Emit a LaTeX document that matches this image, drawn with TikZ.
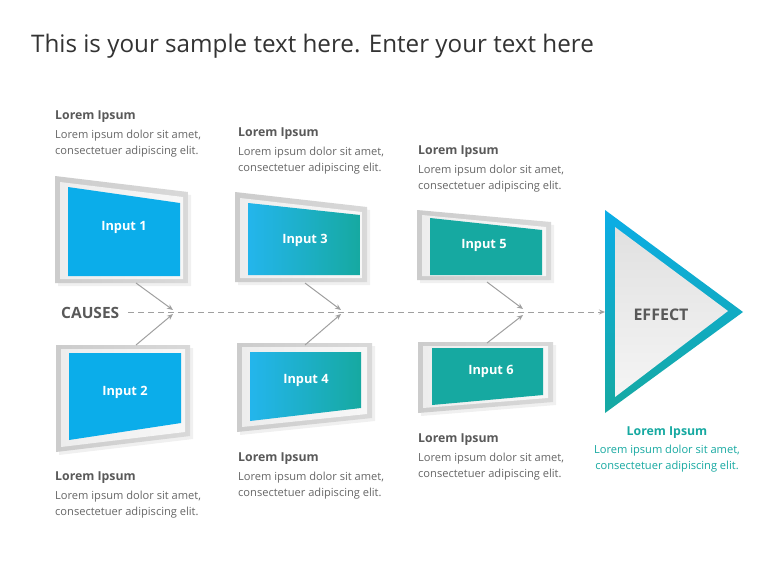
\documentclass[tikz,border=0pt]{standalone}
\usepackage{fontspec}
\setmainfont{Open Sans}
\usetikzlibrary{arrows.meta}
\definecolor{cyanA}{HTML}{0BADEA}
\definecolor{tealA}{HTML}{16A9A1}
\definecolor{txtgray}{HTML}{666666}
\definecolor{headgray}{HTML}{595959}
\definecolor{linegray}{HTML}{A0A0A0}
\tikzset{
  framebox/.style={left color=black!20, right color=black!15, draw=none},
  bevelbox/.style={left color=black!7, right color=black!3, draw=none},
  shadowbox/.style={fill=black, opacity=0.06, draw=none},
  innerc/.style={fill=cyanA, draw=none},
  innerm/.style={left color=cyanA!90!white, right color=tealA, draw=none},
  innert/.style={fill=tealA, draw=none},
  inlabel/.style={text=white, font=\bfseries\fontsize{12.8}{14}\selectfont},
  head/.style={anchor=west, text=headgray, font=\bfseries\fontsize{12.3}{14}\selectfont, inner sep=0pt},
  body/.style={anchor=north west, text=txtgray, font=\fontsize{11.1}{16}\selectfont, align=left, inner sep=0pt},
  feeder/.style={draw=linegray, line width=1pt, -{Stealth[length=6pt,width=5pt]}},
}
\begin{document}
\begin{tikzpicture}[x=1pt,y=-1pt]
\useasboundingbox (0,0) rectangle (768,576);
\fill[white] (0,0) rectangle (768,576);

% title
\node[anchor=west, text=black!80, font=\fontsize{24.2}{28}\selectfont, inner sep=0pt] (title) at (31,46) {This is your sample text here. Enter your text here};

% frame shadows
\begin{scope}[shift={(3,3)}]
\path[shadowbox] (55,176) -- (188,192) -- (188,283) -- (55,283) -- cycle;
\path[shadowbox] (56,345) -- (190,345) -- (190,436) -- (56,452) -- cycle;
\path[shadowbox] (235,192) -- (367,207) -- (367,282) -- (235,282) -- cycle;
\path[shadowbox] (237,343) -- (372,343) -- (372,418) -- (237,432) -- cycle;
\path[shadowbox] (417,210) -- (551,222) -- (551,280) -- (417,280) -- cycle;
\path[shadowbox] (418,342) -- (553,342) -- (553,402) -- (418,413) -- cycle;
\end{scope}

% frames
\shade[framebox] (55,176) -- (188,192) -- (188,283) -- (55,283) -- cycle;
\shade[framebox] (56,345) -- (190,345) -- (190,436) -- (56,452) -- cycle;
\shade[framebox] (235,192) -- (367,207) -- (367,282) -- (235,282) -- cycle;
\shade[framebox] (237,343) -- (372,343) -- (372,418) -- (237,432) -- cycle;
\shade[framebox] (417,210) -- (551,222) -- (551,280) -- (417,280) -- cycle;
\shade[framebox] (418,342) -- (553,342) -- (553,402) -- (418,413) -- cycle;

% bevels
\shade[bevelbox] (60,182) -- (183,197) -- (183,279) -- (60,279) -- cycle;
\shade[bevelbox] (61,349) -- (185,349) -- (185,432) -- (61,447) -- cycle;
\shade[bevelbox] (240,198) -- (362,212) -- (362,278) -- (240,278) -- cycle;
\shade[bevelbox] (242,347) -- (367,347) -- (367,414) -- (242,427) -- cycle;
\shade[bevelbox] (422,215) -- (546,227) -- (546,276) -- (422,276) -- cycle;
\shade[bevelbox] (423,346) -- (548,346) -- (548,398) -- (423,408) -- cycle;

% inner panels
\path[innerc] (68,187) -- (180,203) -- (180,276) -- (68,276) -- cycle;
\path[innerc] (69,353) -- (181,353) -- (181,423) -- (69,440) -- cycle;
\shade[innerm] (248,203) -- (360,215) -- (360,275) -- (248,275) -- cycle;
\shade[innerm] (250,352) -- (361,352) -- (361,408) -- (250,421) -- cycle;
\path[innert] (430,218) -- (542,230) -- (542,275) -- (430,275) -- cycle;
\path[innert] (432,348) -- (543,348) -- (543,395) -- (432,405) -- cycle;

\node[inlabel] (in1) at (124,227) {Input 1};
\node[inlabel] (in2) at (125,392) {Input 2};
\node[inlabel] (in3) at (305,240) {Input 3};
\node[inlabel] (in4) at (306,380) {Input 4};
\node[inlabel] (in5) at (484,245) {Input 5};
\node[inlabel] (in6) at (491,371) {Input 6};

% effect triangle
\shade[top color=cyanA!95!tealA, bottom color=tealA] (605,210) -- (743,312) -- (605,413) -- cycle;
\shade[top color=black!12, bottom color=black!4] (615,227) -- (728,311) -- (615,397) -- cycle;
\node[text=headgray, font=\bfseries\fontsize{16}{18}\selectfont] (effect) at (661,315) {EFFECT};

% spine
\node[text=headgray, font=\bfseries\fontsize{15.5}{18}\selectfont, anchor=west, inner sep=0pt] (causes) at (61,313) {CAUSES};
\coordinate (sp) at (128,312);
\coordinate (ep) at (605,312);
\draw[draw=linegray, line width=1pt, dash pattern=on 6pt off 4pt, -{Stealth[length=6pt,width=5pt]}] (sp) -- (ep);

% feeders
\coordinate (a1) at (136,283); \coordinate (b1) at (173,310);
\coordinate (a2) at (136,345); \coordinate (b2) at (173,314);
\coordinate (a3) at (305,283); \coordinate (b3) at (341,310);
\coordinate (a4) at (305,345); \coordinate (b4) at (341,314);
\coordinate (a5) at (487,282); \coordinate (b5) at (523,309);
\coordinate (a6) at (487,343); \coordinate (b6) at (523,315);
\draw[feeder] (a1) -- (b1);
\draw[feeder] (a2) -- (b2);
\draw[feeder] (a3) -- (b3);
\draw[feeder] (a4) -- (b4);
\draw[feeder] (a5) -- (b5);
\draw[feeder] (a6) -- (b6);

% text blocks
\node[head] (h1) at (55,117) {Lorem Ipsum};
\node[body] (t1) at (55,130) {Lorem ipsum dolor sit amet,\\consectetuer adipiscing elit.};
\node[head] (h3) at (238,134) {Lorem Ipsum};
\node[body] (t3) at (238,147) {Lorem ipsum dolor sit amet,\\consectetuer adipiscing elit.};
\node[head] (h5) at (418,152) {Lorem Ipsum};
\node[body] (t5) at (418,165) {Lorem ipsum dolor sit amet,\\consectetuer adipiscing elit.};
\node[head] (h2) at (55,478) {Lorem Ipsum};
\node[body] (t2) at (55,491) {Lorem ipsum dolor sit amet,\\consectetuer adipiscing elit.};
\node[head] (h4) at (238,459) {Lorem Ipsum};
\node[body] (t4) at (238,472) {Lorem ipsum dolor sit amet,\\consectetuer adipiscing elit.};
\node[head] (h6) at (418,440) {Lorem Ipsum};
\node[body] (t6) at (418,453) {Lorem ipsum dolor sit amet,\\consectetuer adipiscing elit.};

\node[text=tealA, font=\bfseries\fontsize{12.3}{14}\selectfont, inner sep=0pt] (he) at (667,433) {Lorem Ipsum};
\node[anchor=north, text=tealA, font=\fontsize{11.1}{16}\selectfont, align=center, inner sep=0pt] (te) at (667,445) {Lorem ipsum dolor sit amet,\\consectetuer adipiscing elit.};
\end{tikzpicture}
\end{document}
